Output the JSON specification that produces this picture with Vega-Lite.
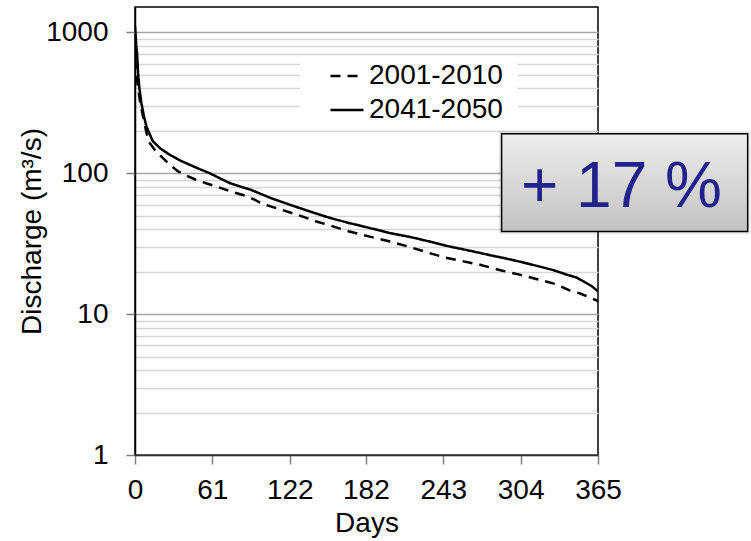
{
  "$schema": "https://vega.github.io/schema/vega-lite/v6.json",
  "width": 463,
  "height": 448,
  "autosize": "none",
  "padding": {"left": 135, "top": 7, "right": 153, "bottom": 86},
  "background": "white",
  "config": {
    "font": "Liberation Sans",
    "view": {"stroke": "black", "strokeWidth": 1.5},
    "axis": {"labelFont": "Liberation Sans", "titleFont": "Liberation Sans", "labelColor": "black", "titleColor": "black", "titleFontWeight": "normal", "labelFontSize": 28, "titleFontSize": 28}
  },
  "datasets": {
    "curves": [
      {"period": "2041-2050", "day": 0, "q": 1107},
      {"period": "2041-2050", "day": 1, "q": 800},
      {"period": "2041-2050", "day": 1.6, "q": 716},
      {"period": "2041-2050", "day": 2.4, "q": 516},
      {"period": "2041-2050", "day": 3.5, "q": 400},
      {"period": "2041-2050", "day": 5, "q": 316},
      {"period": "2041-2050", "day": 7, "q": 255},
      {"period": "2041-2050", "day": 9, "q": 215},
      {"period": "2041-2050", "day": 14, "q": 169},
      {"period": "2041-2050", "day": 20, "q": 150},
      {"period": "2041-2050", "day": 27, "q": 136},
      {"period": "2041-2050", "day": 35, "q": 124},
      {"period": "2041-2050", "day": 43, "q": 115},
      {"period": "2041-2050", "day": 51, "q": 107},
      {"period": "2041-2050", "day": 59, "q": 100},
      {"period": "2041-2050", "day": 67, "q": 92},
      {"period": "2041-2050", "day": 75, "q": 85},
      {"period": "2041-2050", "day": 83, "q": 80.5},
      {"period": "2041-2050", "day": 91, "q": 76.5},
      {"period": "2041-2050", "day": 99, "q": 71.5},
      {"period": "2041-2050", "day": 107, "q": 66.7},
      {"period": "2041-2050", "day": 122, "q": 59.8},
      {"period": "2041-2050", "day": 138, "q": 53.5},
      {"period": "2041-2050", "day": 154, "q": 48.1},
      {"period": "2041-2050", "day": 169, "q": 44.3},
      {"period": "2041-2050", "day": 185, "q": 40.9},
      {"period": "2041-2050", "day": 201, "q": 37.6},
      {"period": "2041-2050", "day": 217, "q": 35.3},
      {"period": "2041-2050", "day": 232, "q": 32.8},
      {"period": "2041-2050", "day": 248, "q": 30.2},
      {"period": "2041-2050", "day": 264, "q": 28.2},
      {"period": "2041-2050", "day": 280, "q": 26.2},
      {"period": "2041-2050", "day": 291, "q": 25},
      {"period": "2041-2050", "day": 304, "q": 23.5},
      {"period": "2041-2050", "day": 317, "q": 22},
      {"period": "2041-2050", "day": 330, "q": 20.5},
      {"period": "2041-2050", "day": 341, "q": 19},
      {"period": "2041-2050", "day": 348, "q": 18.2},
      {"period": "2041-2050", "day": 354, "q": 17},
      {"period": "2041-2050", "day": 360, "q": 15.8},
      {"period": "2041-2050", "day": 365, "q": 14.5},
      {"period": "2001-2010", "day": 0, "q": 650},
      {"period": "2001-2010", "day": 1, "q": 500},
      {"period": "2001-2010", "day": 2.5, "q": 400},
      {"period": "2001-2010", "day": 4, "q": 320},
      {"period": "2001-2010", "day": 6.3, "q": 254},
      {"period": "2001-2010", "day": 9, "q": 195},
      {"period": "2001-2010", "day": 11.6, "q": 164},
      {"period": "2001-2010", "day": 16, "q": 145},
      {"period": "2001-2010", "day": 22, "q": 128},
      {"period": "2001-2010", "day": 28, "q": 114},
      {"period": "2001-2010", "day": 34, "q": 103},
      {"period": "2001-2010", "day": 41, "q": 96},
      {"period": "2001-2010", "day": 48, "q": 90},
      {"period": "2001-2010", "day": 56, "q": 85},
      {"period": "2001-2010", "day": 64, "q": 80.7},
      {"period": "2001-2010", "day": 76, "q": 74},
      {"period": "2001-2010", "day": 89, "q": 68.5},
      {"period": "2001-2010", "day": 101, "q": 60.5},
      {"period": "2001-2010", "day": 117, "q": 54.5},
      {"period": "2001-2010", "day": 130, "q": 50},
      {"period": "2001-2010", "day": 143, "q": 45.5},
      {"period": "2001-2010", "day": 156, "q": 42},
      {"period": "2001-2010", "day": 169, "q": 38.6},
      {"period": "2001-2010", "day": 185, "q": 35.5},
      {"period": "2001-2010", "day": 201, "q": 32.8},
      {"period": "2001-2010", "day": 217, "q": 29.9},
      {"period": "2001-2010", "day": 230, "q": 27.5},
      {"period": "2001-2010", "day": 243, "q": 25.4},
      {"period": "2001-2010", "day": 259, "q": 23.7},
      {"period": "2001-2010", "day": 272, "q": 22.4},
      {"period": "2001-2010", "day": 289, "q": 20.4},
      {"period": "2001-2010", "day": 304, "q": 19},
      {"period": "2001-2010", "day": 317, "q": 17.7},
      {"period": "2001-2010", "day": 331, "q": 16.4},
      {"period": "2001-2010", "day": 343, "q": 14.7},
      {"period": "2001-2010", "day": 351, "q": 14},
      {"period": "2001-2010", "day": 358, "q": 13.2},
      {"period": "2001-2010", "day": 365, "q": 12.4}
    ],
    "note": [
      {"label": "+ 17 %", "day_start": 289, "day_end": 483, "day_mid": 383.5, "q_top": 191, "q_bottom": 38.6, "q_text": 57.6}
    ]
  },
  "layer": [
    {
      "data": {"name": "curves"},
      "mark": {"type": "line", "strokeWidth": 2.5, "color": "black", "clip": true},
      "encoding": {
        "x": {
          "field": "day", "type": "quantitative", "title": "Days",
          "scale": {"domain": [0, 365], "nice": false, "zero": false},
          "axis": {
            "title": "Days", "values": [0, 61, 122, 182, 243, 304, 365], "grid": false,
            "tickSize": 9, "tickWidth": 1.5, "tickColor": "#808080",
            "domainColor": "#303030", "domainWidth": 1.5,
            "labelPadding": 12, "titlePadding": 5, "labelFlush": false
          }
        },
        "y": {
          "field": "q", "type": "quantitative", "title": "Discharge (m³/s)",
          "scale": {"type": "log", "domain": [1, 1515], "nice": false},
          "axis": {
            "title": "Discharge (m³/s)",
            "values": [1, 2, 3, 4, 5, 6, 7, 8, 9, 10, 20, 30, 40, 50, 60, 70, 80, 90, 100, 200, 300, 400, 500, 600, 700, 800, 900, 1000],
            "labelExpr": "indexof([1,10,100,1000], datum.value) >= 0 ? '' + datum.value : ''",
            "grid": true,
            "gridColor": {"condition": {"test": "indexof([10,100,1000], datum.value) >= 0", "value": "#a6a6a6"}, "value": "#d6d6d6"},
            "gridWidth": 1.5,
            "tickSize": 9, "tickWidth": 1.5,
            "tickColor": {"condition": {"test": "indexof([1,10,100,1000], datum.value) >= 0", "value": "#808080"}, "value": "transparent"},
            "domainColor": "black", "domainWidth": 1.5,
            "labelPadding": 18, "titlePadding": -1, "labelFlush": false, "labelOverlap": false
          }
        },
        "strokeDash": {
          "field": "period", "type": "nominal",
          "scale": {"domain": ["2001-2010", "2041-2050"], "range": [[10, 7], [1, 0]]},
          "legend": {
            "title": "\u2002", "titleOrient": "right", "titlePadding": 14, "titleFontSize": 28,
            "orient": "none", "legendX": 165, "legendY": 50,
            "symbolType": "stroke", "symbolSize": 1089, "symbolStrokeWidth": 2.5,
            "symbolStrokeColor": "black", "symbolOffset": 28,
            "labelFont": "Liberation Sans", "labelFontSize": 28, "labelColor": "black",
            "labelOffset": 4, "labelLimit": 400,
            "fillColor": "white", "padding": 1, "rowPadding": 2
          }
        }
      }
    },
    {
      "data": {"name": "note"},
      "mark": {"type": "rect", "fill": null, "stroke": "#000000", "strokeWidth": 6, "strokeOpacity": 0.08},
      "encoding": {
        "x": {"field": "day_start", "type": "quantitative", "title": "Days"},
        "x2": {"field": "day_end"},
        "y": {"field": "q_top", "type": "quantitative", "title": "Discharge (m³/s)"},
        "y2": {"field": "q_bottom"}
      }
    },
    {
      "data": {"name": "note"},
      "mark": {
        "type": "rect", "stroke": "black", "strokeWidth": 1.5,
        "fill": {"gradient": "linear", "x1": 0, "y1": 0, "x2": 0, "y2": 1,
          "stops": [{"offset": 0, "color": "#eeeeee"}, {"offset": 1, "color": "#c2c2c2"}]}
      },
      "encoding": {
        "x": {"field": "day_start", "type": "quantitative", "title": "Days"},
        "x2": {"field": "day_end"},
        "y": {"field": "q_top", "type": "quantitative", "title": "Discharge (m³/s)"},
        "y2": {"field": "q_bottom"}
      }
    },
    {
      "data": {"name": "note"},
      "mark": {"type": "text", "font": "Liberation Sans", "fontSize": 64, "color": "#22228c", "align": "center", "baseline": "alphabetic"},
      "encoding": {
        "x": {"field": "day_mid", "type": "quantitative", "title": "Days"},
        "y": {"field": "q_text", "type": "quantitative", "title": "Discharge (m³/s)"},
        "text": {"field": "label"}
      }
    }
  ]
}
